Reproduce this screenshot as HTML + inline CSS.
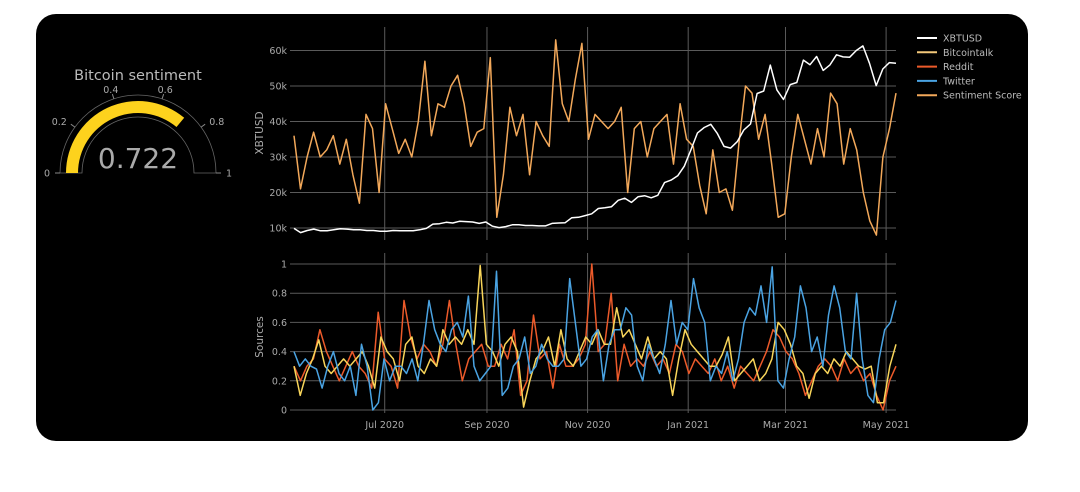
<!DOCTYPE html>
<html><head><meta charset="utf-8"><style>
html,body{margin:0;padding:0;background:#fff;width:1080px;height:492px;overflow:hidden;font-family:"DejaVu Sans","Liberation Sans",sans-serif}
#panel{position:absolute;left:36px;top:14px;width:992px;height:427px;background:#000;border-radius:20px}
svg{position:absolute;left:0;top:0;font-family:"DejaVu Sans","Liberation Sans",sans-serif}
</style></head><body>
<div id="panel"></div>
<svg id="chart" width="1080" height="492"></svg>
<script>
const startDate = new Date(2020,4,7), endDate = new Date(2021,4,7);
const xTickLabels = ["Jul 2020","Sep 2020","Nov 2020","Jan 2021","Mar 2021","May 2021"];
const xTickDates = [[2020,6,1],[2020,8,1],[2020,10,1],[2021,0,1],[2021,2,1],[2021,4,1]];
const priceTicks = [10,20,30,40,50,60];
const priceTickLabels = ["10k","20k","30k","40k","50k","60k"];
const srcTicks = [0,0.2,0.4,0.6,0.8,1];
const srcTickLabels = ["0","0.2","0.4","0.6","0.8","1"];
const gaugeValue = 0.722;
const gaugeTicks = [0,0.2,0.4,0.6,0.8,1];
const xbtusd = [9.9,8.7,9.3,9.7,9.2,9.2,9.5,9.8,9.7,9.5,9.5,9.3,9.3,9.1,9.1,9.3,9.2,9.2,9.2,9.5,9.9,11.1,11.2,11.6,11.4,11.9,11.8,11.7,11.3,11.7,10.5,10.1,10.4,10.9,10.9,10.7,10.7,10.6,10.6,11.3,11.4,11.5,12.9,13.0,13.5,14.0,15.5,15.7,16.0,17.8,18.4,17.2,18.8,19.1,18.5,19.2,22.8,23.5,24.7,27.4,32.0,36.8,38.3,39.2,36.6,33.0,32.5,34.3,37.6,39.3,47.9,48.6,55.9,48.9,46.2,50.4,51.0,57.3,56.0,58.3,54.4,55.9,58.8,58.2,58.1,60.0,61.3,56.4,50.1,54.8,56.6,56.4];
const sentimentScaled = [36,21,30,37,30,32,36,28,35,25,17,42,38,20,45,38,31,35,30,40,57,36,45,44,50,53,45,33,37,38,58,13,25,44,36,42,25,40,36,33,63,45,40,52,62,35,42,40,38,40,44,20,38,40,30,38,40,42,28,45,35,33,22,14,32,20,21,15,34,50,48,35,42,28,13,14,30,42,35,28,38,30,48,45,28,38,32,20,12,8,30,38,48];
const twitter = [0.4,0.3,0.35,0.3,0.28,0.15,0.3,0.4,0.25,0.2,0.3,0.1,0.45,0.3,0.0,0.05,0.35,0.2,0.3,0.3,0.25,0.35,0.2,0.45,0.75,0.55,0.45,0.4,0.55,0.6,0.5,0.78,0.3,0.2,0.25,0.3,0.95,0.1,0.15,0.3,0.35,0.5,0.25,0.3,0.45,0.35,0.3,0.3,0.35,0.9,0.6,0.3,0.35,0.5,0.55,0.2,0.45,0.55,0.55,0.7,0.65,0.3,0.2,0.45,0.35,0.25,0.45,0.75,0.45,0.6,0.55,0.9,0.7,0.6,0.2,0.3,0.25,0.4,0.2,0.35,0.6,0.7,0.65,0.85,0.6,0.98,0.2,0.15,0.35,0.5,0.85,0.7,0.4,0.5,0.3,0.65,0.85,0.7,0.4,0.35,0.8,0.35,0.1,0.05,0.35,0.55,0.6,0.75];
const bitcointalk = [0.3,0.1,0.25,0.35,0.48,0.3,0.25,0.3,0.35,0.3,0.35,0.4,0.3,0.15,0.5,0.4,0.35,0.2,0.45,0.5,0.3,0.25,0.35,0.3,0.55,0.45,0.5,0.45,0.55,0.45,0.99,0.45,0.4,0.3,0.45,0.5,0.4,0.02,0.2,0.35,0.4,0.5,0.3,0.55,0.35,0.3,0.4,0.5,0.45,0.55,0.45,0.45,0.7,0.5,0.55,0.45,0.35,0.5,0.35,0.4,0.35,0.1,0.35,0.55,0.45,0.4,0.35,0.3,0.3,0.38,0.5,0.2,0.25,0.3,0.35,0.2,0.25,0.35,0.6,0.55,0.45,0.3,0.25,0.08,0.25,0.3,0.25,0.35,0.3,0.4,0.35,0.3,0.28,0.3,0.05,0.05,0.3,0.45];
const reddit = [0.3,0.2,0.3,0.35,0.55,0.4,0.3,0.2,0.3,0.4,0.3,0.25,0.15,0.67,0.35,0.3,0.15,0.75,0.5,0.35,0.45,0.4,0.3,0.45,0.75,0.45,0.2,0.35,0.4,0.45,0.3,0.3,0.45,0.35,0.55,0.1,0.2,0.65,0.35,0.4,0.15,0.45,0.3,0.3,0.35,0.45,1.0,0.4,0.45,0.8,0.2,0.45,0.3,0.35,0.3,0.4,0.3,0.35,0.25,0.45,0.4,0.25,0.35,0.3,0.25,0.35,0.2,0.3,0.15,0.3,0.25,0.2,0.3,0.4,0.55,0.5,0.4,0.35,0.25,0.1,0.2,0.3,0.35,0.3,0.2,0.35,0.25,0.3,0.2,0.25,0.1,0.0,0.2,0.3];

const NS="http://www.w3.org/2000/svg", svg=document.getElementById('chart');
function mk(tag,attrs,parent){const e=document.createElementNS(NS,tag);for(const k in attrs)e.setAttribute(k,attrs[k]);(parent||svg).appendChild(e);return e;}
const X0=294,X1=896,PL=290,PR=896;
const span=endDate-startDate;
const xDate=d=>X0+(d-startDate)/span*(X1-X0);
const xIdx=(i,n)=>X0+i/(n-1)*(X1-X0);
const yPrice=v=>228-(v-10)*3.55;
const ySent=v=>yPrice(v);
const ySrc=v=>410-v*146;
const grid='#5a5a5a', tc='#aaaaaa';

priceTicks.forEach((t,i)=>{
  const g=mk('line',{x1:PL,x2:PR,y1:yPrice(t),y2:yPrice(t),stroke:grid,'stroke-width':1});
  
  
  const l=mk('text',{x:PL-3,y:yPrice(t)+3.5,'text-anchor':'end',fill:tc,'font-size':9.5});
  
  
  l.textContent=priceTickLabels[i];
});
srcTicks.forEach((t,i)=>{
  const g=mk('line',{x1:PL,x2:PR,y1:ySrc(t),y2:ySrc(t),stroke:grid,'stroke-width':1});
  
  
  const l=mk('text',{x:PL-3,y:ySrc(t)+3.5,'text-anchor':'end',fill:tc,'font-size':9.5});
  
  
  l.textContent=srcTickLabels[i];
});
xTickDates.forEach((d,i)=>{
  const x=xDate(new Date(d[0],d[1],d[2]));
  const g1=mk('line',{x1:x,x2:x,y1:27,y2:240,stroke:grid,'stroke-width':1});
  
  
  const g2=mk('line',{x1:x,x2:x,y1:253,y2:413,stroke:grid,'stroke-width':1});
  
  
  const l=mk('text',{x:x,y:428,'text-anchor':'middle',fill:tc,'font-size':9.5});
  
  
  l.textContent=xTickLabels[i];
});
const t1=mk('text',{x:0,y:0,transform:'translate(263,133) rotate(-90)','text-anchor':'middle',fill:tc,'font-size':10.5});


t1.textContent='XBTUSD';
const t2=mk('text',{x:0,y:0,transform:'translate(263,337) rotate(-90)','text-anchor':'middle',fill:tc,'font-size':10.5});


t2.textContent='Sources';

function line(arr,yf,color,name,w){
  const pts=arr.map((v,i)=>xIdx(i,arr.length).toFixed(1)+','+yf(v).toFixed(1)).join(' ');
  const p=mk('polyline',{points:pts,fill:'none',stroke:color,'stroke-width':w||1.5,'stroke-linejoin':'round'});
  
  
}
line(sentimentScaled,ySent,'#f2a85a','sentiment-score-line');
line(xbtusd,yPrice,'#ffffff','xbtusd-line');
line(reddit,ySrc,'#ec5a2a','reddit-line');
line(bitcointalk,ySrc,'#f8d55a','bitcointalk-line');
line(twitter,ySrc,'#4aa3e2','twitter-line');

const legend=[['XBTUSD','#ffffff'],['Bitcointalk','#f3c87a'],['Reddit','#ec5a2a'],['Twitter','#4aa3e2'],['Sentiment Score','#f2a85a']];
legend.forEach((e,i)=>{
  const y=38+i*14.3;
  const g=mk('g',{});
  
  
  mk('line',{x1:917,x2:937,y1:y,y2:y,stroke:e[1],'stroke-width':2},g);
  const t=mk('text',{x:943,y:y+3.5,fill:'#bbbbbb','font-size':9.5},g);
  t.textContent=e[0];
});

const cx=138,cy=173;
function arcPath(r1,r2,v){const a0=Math.PI,a1=Math.PI*(1-v);
  const p=(r,a)=>(cx+r*Math.cos(a)).toFixed(1)+','+(cy-r*Math.sin(a)).toFixed(1);
  return 'M'+p(r2,a0)+' A'+r2+','+r2+' 0 0 1 '+p(r2,a1)+' L'+p(r1,a1)+' A'+r1+','+r1+' 0 0 0 '+p(r1,a0)+' Z';}
const ga=mk('path',{d:arcPath(56,78,1),fill:'none',stroke:'#666','stroke-width':0.8});


const gb=mk('path',{d:arcPath(60,72,gaugeValue),fill:'#fdd21d'});


gaugeTicks.forEach(t=>{
  const a=Math.PI*(1-t);
  const tk=mk('line',{x1:cx+78*Math.cos(a),y1:cy-78*Math.sin(a),x2:cx+83*Math.cos(a),y2:cy-83*Math.sin(a),stroke:'#888','stroke-width':1});
  
  
  const r=88;
  const l=mk('text',{x:cx+r*Math.cos(a),y:cy-r*Math.sin(a)+3.5,'text-anchor':t<0.5?'end':'start',fill:tc,'font-size':9.5});
  if(t===0.4||t===0.6)l.setAttribute('text-anchor','middle');
  
  
  l.textContent=String(t);
});
const gt=mk('text',{x:cx,y:80,'text-anchor':'middle',fill:'#bbbbbb','font-size':14.5});


gt.textContent='Bitcoin sentiment';
const gv=mk('text',{x:cx,y:168,'text-anchor':'middle',fill:'#aaaaaa','font-size':28});


gv.textContent=gaugeValue.toFixed(3);
</script>
</body></html>
